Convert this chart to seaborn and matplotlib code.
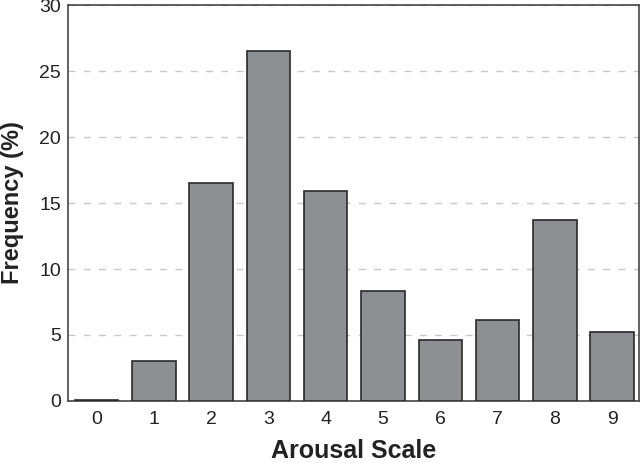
import pandas as pd
import seaborn as sns
import matplotlib.pyplot as plt

# valores
escala = ["0", "1", "2", "3", "4", "5", "6", "7", "8", "9"]
frequencia = [0.1, 3.0, 16.5, 26.5, 15.9, 8.3, 4.6, 6.1, 13.7, 5.2]
yticks = [0, 5, 10, 15, 20, 25, 30]

df = pd.DataFrame({"Arousal": escala, "Freq": frequencia})

sns.set_style("white")
plt.rcParams['font.family'] = ['Liberation Sans', 'DejaVu Sans']

fig = plt.figure(figsize = (6.41, 4.63), dpi = 100)
ax = fig.add_axes([0.106, 0.134, 0.891, 0.855])

sns.barplot(data = df, x = "Arousal", y = "Freq", color = "#8e8f93",
            edgecolor = "#2a2a2a", linewidth = 1.2, width = 0.76,
            saturation = 1, ax = ax, zorder = 3)

ax.set_ylim(0, 30)
ax.set_xlim(-0.5, 9.47)
ax.set_yticks(yticks)
ax.yaxis.grid(True, linestyle = (0, (5, 6)), color = "#c8c8c8", linewidth = 1)
ax.set_axisbelow(True)

for s in ax.spines.values():
    s.set_visible(True)
    s.set_color("#444444")
    s.set_linewidth(1.2)

ax.tick_params(axis = "both", length = 0, labelsize = 14, colors = "#222222")
ax.tick_params(axis = "x", pad = 7)
ax.tick_params(axis = "y", pad = 5)
ax.set_xlabel("Arousal Scale", fontsize = 18, fontweight = "bold", color = "#222222", labelpad = 8)
ax.set_ylabel("Frequency (%)", fontsize = 17, fontweight = "bold", color = "#222222", labelpad = 11)

plt.savefig("out.png", dpi = 100)
